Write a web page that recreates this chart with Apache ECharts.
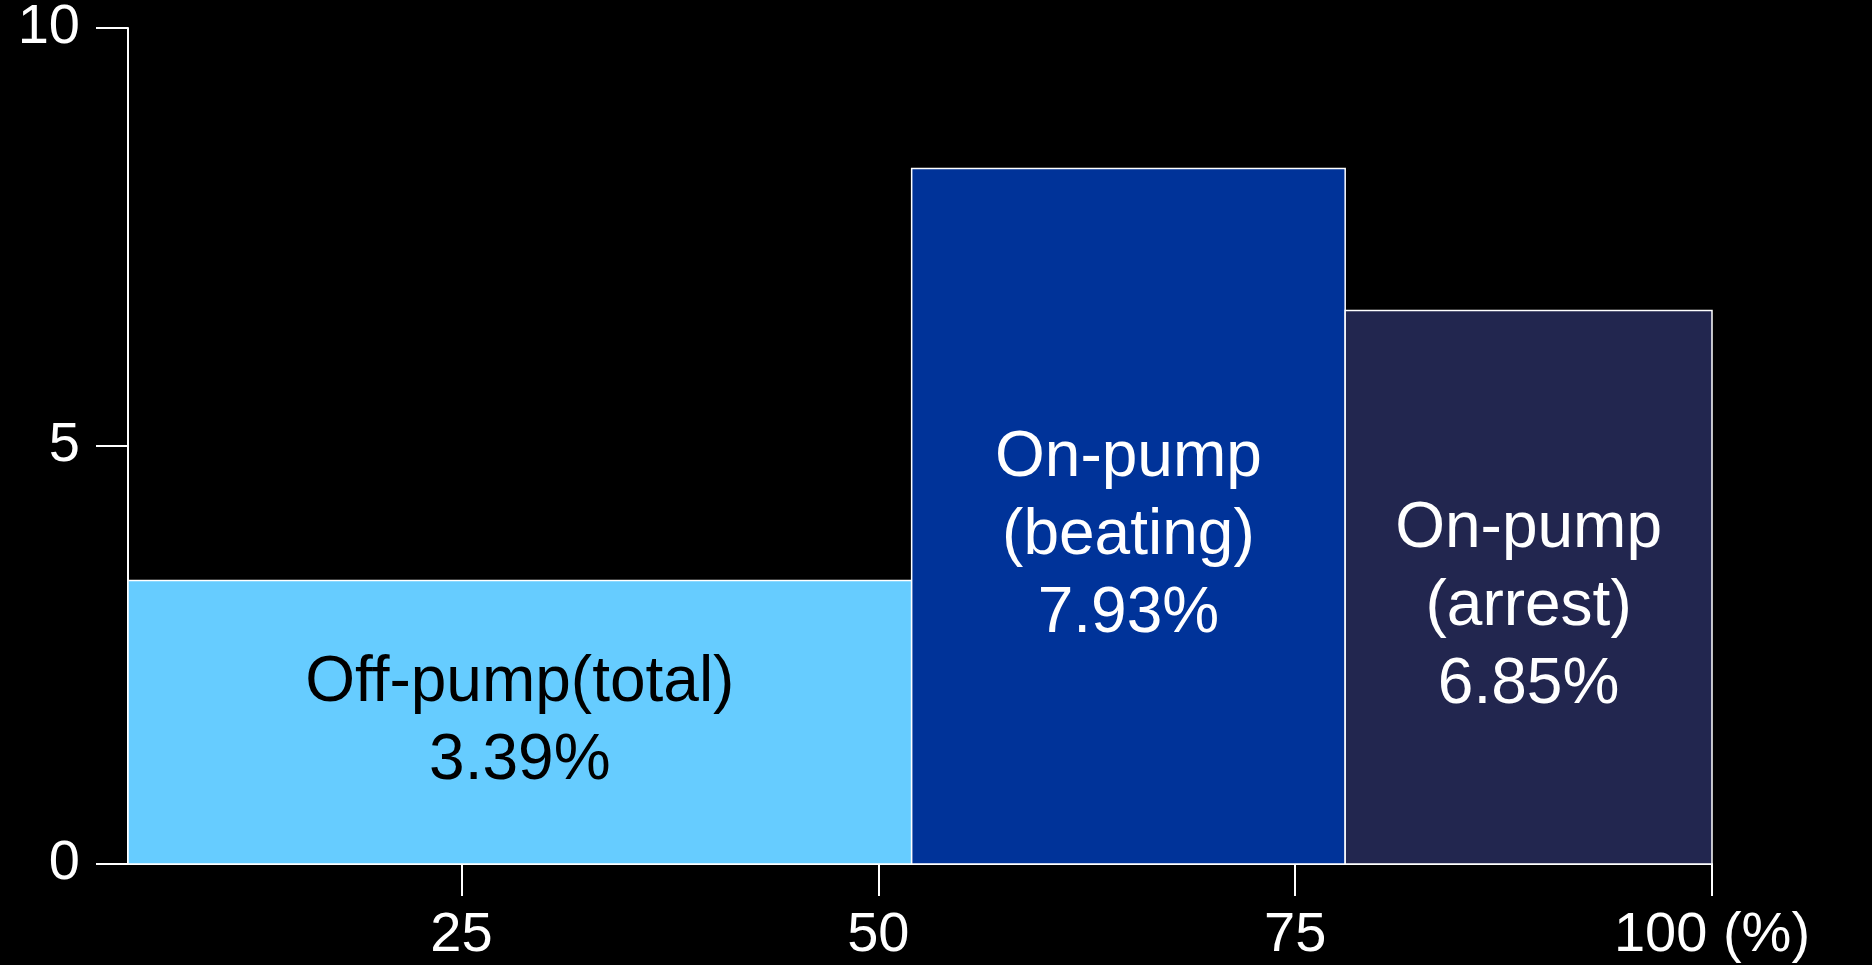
<!DOCTYPE html>
<html>
<head>
<meta charset="utf-8">
<script src="https://cdn.jsdelivr.net/npm/echarts@6/dist/echarts.min.js"></script>
<style>html,body{margin:0;background:#000;}#main{width:1872px;height:965px;}</style>
</head>
<body>
<div id="main"></div>
<script>
// bar extents along x (%), heights, labels
var xStart = [5, 52, 78];
var xEnd = [52, 78, 100];
var heights = [3.39, 8.32, 6.62];
var labels = ['Off-pump(total)\n3.39%', 'On-pump\n(beating)\n7.93%', 'On-pump\n(arrest)\n6.85%'];
var colors = ['#66ccff', '#003399', '#22264f'];
var textColors = ['#000', '#fff', '#fff'];
var xTicks = [25, 50, 75, 100];

var data = [];
for (var i = 0; i < heights.length; i++) data.push([xStart[i], xEnd[i], heights[i], i]);

var myChart = echarts.init(document.getElementById('main'));
var option = {
    backgroundColor: '#000',
    animation: false,
    grid: {left: 128, right: 160, top: 12, bottom: 101},
    xAxis: {
        type: 'value', min: 5, max: 100,
        axisLine: {lineStyle: {color: '#fff', width: 2}},
        axisTick: {show: true, inside: false, length: 32, customValues: xTicks, lineStyle: {color: '#fff', width: 2}},
        axisLabel: {customValues: xTicks, color: '#fff', fontSize: 56, fontFamily: 'Liberation Sans', margin: 44,
            formatter: function (v) { return v === 100 ? '100 (%)' : String(v); }},
        splitLine: {show: false}
    },
    yAxis: {
        type: 'value', min: 0, max: 10, interval: 5,
        axisLine: {show: true, lineStyle: {color: '#fff', width: 2}},
        axisTick: {show: true, length: 32, lineStyle: {color: '#fff', width: 2}},
        axisLabel: {color: '#fff', fontSize: 56, fontFamily: 'Liberation Sans', margin: 48, padding: [24, 0, 0, 0]},
        splitLine: {show: false}
    },
    series: [{
        type: 'custom',
        data: data,
        encode: {x: [0, 1], y: 2},
        renderItem: function (params, api) {
            var idx = api.value(3);
            var p0 = api.coord([api.value(0), api.value(2)]);
            var p1 = api.coord([api.value(1), 0]);
            return {
                type: 'rect',
                shape: {x: p0[0], y: p0[1], width: p1[0] - p0[0], height: p1[1] - p0[1]},
                style: {fill: colors[idx], stroke: '#fff', lineWidth: 1.5},
                textContent: {style: {text: labels[idx], fill: textColors[idx], fontSize: 64,
                    fontFamily: 'Liberation Sans', align: 'center', lineHeight: 78}},
                textConfig: {position: 'inside', offset: [0, idx === 0 ? 0 : 20]}
            };
        }
    }]
};
myChart.setOption(option);
</script>
</body>
</html>
